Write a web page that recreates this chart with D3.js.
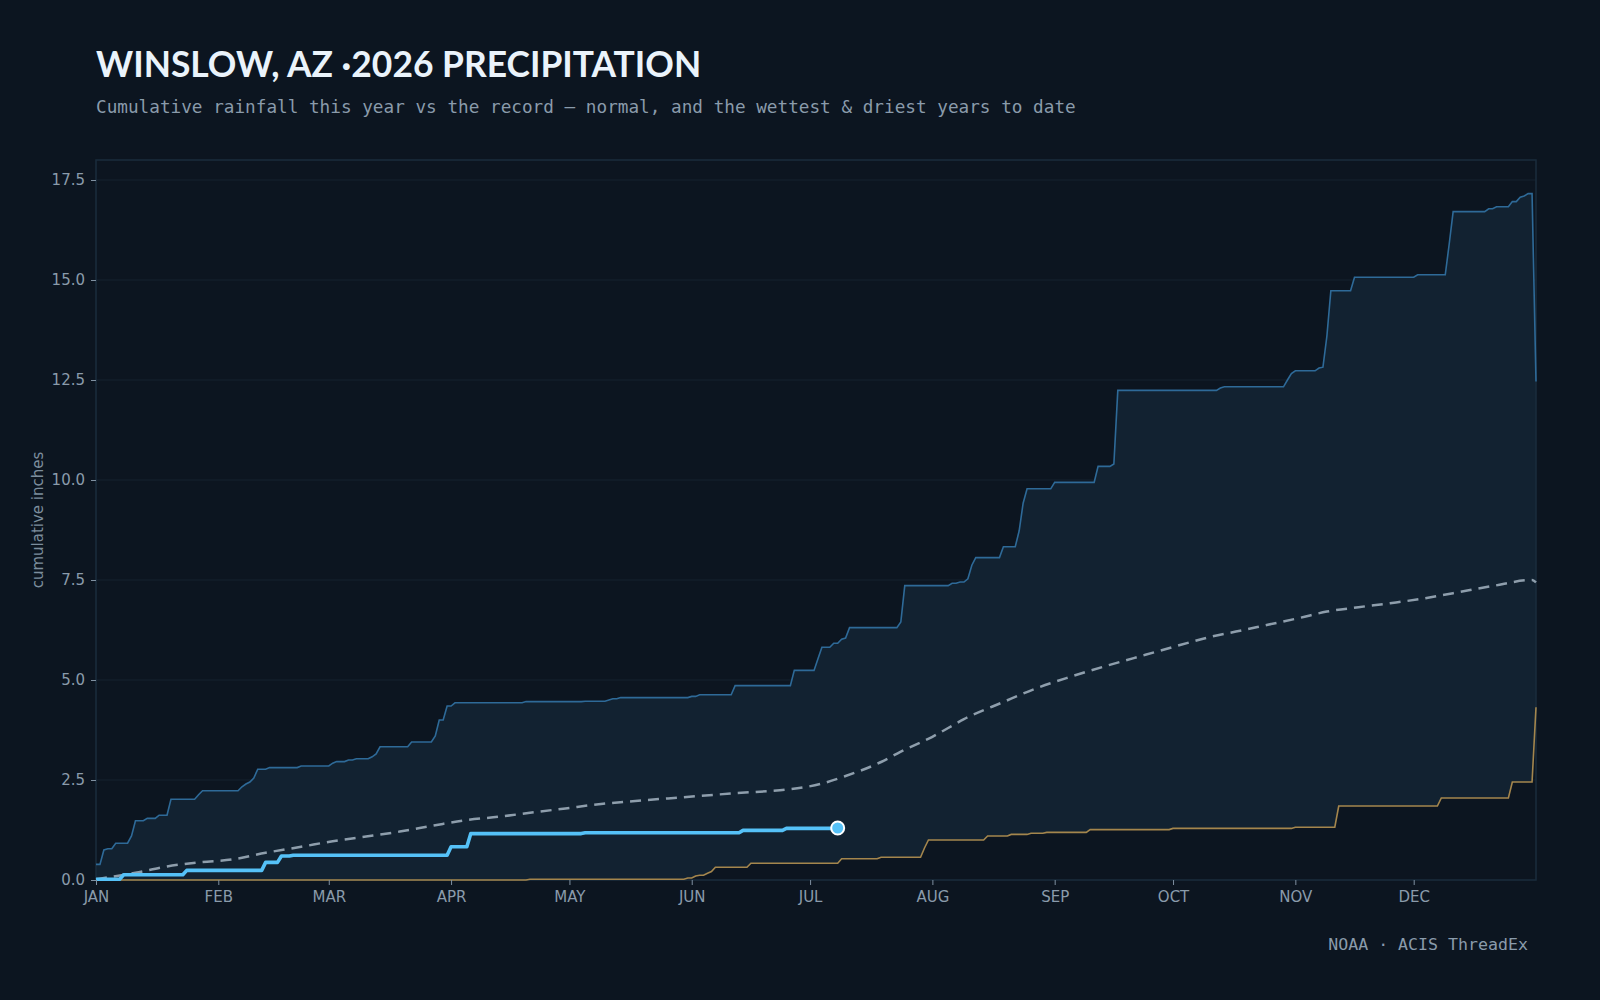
<!DOCTYPE html>
<html>
<head>
<meta charset="utf-8">
<script src="https://cdn.jsdelivr.net/npm/d3@7"></script>
<style>
	html, body { margin: 0; padding: 0; background: #0c1520; }
	#appRain { width: 1600px; height: 1000px; }
</style>
</head>
<body>
<div id="appRain"></div>
<script>
///////////////////////////////////////////////////////////////////////////
//////////////////////////// data /////////////////////////////////////////
///////////////////////////////////////////////////////////////////////////

// day of year (0 = Jan 1) where each month starts
const monthStarts = [0, 31, 59, 90, 120, 151, 181, 212, 243, 273, 304, 334];
const monthLabels = ["JAN", "FEB", "MAR", "APR", "MAY", "JUN", "JUL", "AUG", "SEP", "OCT", "NOV", "DEC"];
const yTicks = [0, 2.5, 5, 7.5, 10, 12.5, 15, 17.5];

// wettest year to date: [day, cumulative inches] where the total changes
const wettestSteps = [
	[0, 0.39], [2, 0.75], [3, 0.78], [5, 0.92], [9, 1.1], [10, 1.48], [13, 1.54],
	[16, 1.62], [19, 2.02], [26, 2.13], [27, 2.23], [37, 2.33], [38, 2.4], [39, 2.45],
	[40, 2.55], [41, 2.77], [44, 2.81], [52, 2.85], [60, 2.92], [61, 2.96], [64, 3.0],
	[66, 3.03], [70, 3.08], [71, 3.15], [72, 3.33], [80, 3.45], [86, 3.6], [87, 4.0],
	[89, 4.35], [91, 4.43], [109, 4.46], [124, 4.47], [130, 4.5], [131, 4.53], [133, 4.56],
	[151, 4.59], [153, 4.63], [162, 4.86], [177, 5.24], [183, 5.53], [184, 5.82],
	[187, 5.92], [189, 6.02], [190, 6.05], [191, 6.31], [204, 6.45], [205, 7.36],
	[217, 7.42], [219, 7.45], [221, 7.53], [222, 7.87], [223, 8.06], [230, 8.33],
	[234, 8.73], [235, 9.42], [236, 9.78], [243, 9.94], [254, 10.34], [258, 10.4],
	[259, 12.24], [285, 12.3], [286, 12.33], [302, 12.5], [303, 12.66], [304, 12.73],
	[310, 12.8], [311, 12.82], [312, 13.6], [313, 14.73], [319, 15.07], [335, 15.13],
	[343, 15.9], [344, 16.71], [353, 16.78], [355, 16.83], [359, 16.96], [361, 17.07],
	[362, 17.1], [363, 17.16], [365, 12.46]
];

// driest year to date
const driestSteps = [
	[0, 0], [110, 0.02], [150, 0.05], [152, 0.1], [153, 0.12], [155, 0.17], [156, 0.21],
	[157, 0.32], [166, 0.42], [189, 0.53], [199, 0.57], [210, 0.8], [211, 1.0],
	[226, 1.1], [232, 1.14], [237, 1.17], [241, 1.19], [252, 1.26], [273, 1.29],
	[304, 1.32], [315, 1.85], [341, 2.05], [359, 2.45], [365, 4.32]
];

// normal, cumulative
const normalDays = [0, 10, 18, 26, 35, 43, 52, 60, 68, 77, 86, 94, 102, 110, 119, 128, 136,
	145, 153, 162, 170, 176, 184, 190, 199, 204, 212, 216, 220, 230, 238, 247, 256, 266,
	275, 283, 290, 297, 305, 312, 320, 328, 336, 344, 354, 364, 365];
const normalValues = [0.02, 0.18, 0.34, 0.44, 0.52, 0.68, 0.83, 0.97, 1.08, 1.21, 1.37, 1.5,
	1.58, 1.68, 1.79, 1.9, 1.97, 2.04, 2.1, 2.17, 2.22, 2.27, 2.41, 2.6, 2.95, 3.21, 3.58,
	3.8, 4.02, 4.45, 4.78, 5.08, 5.35, 5.63, 5.88, 6.09, 6.23, 6.38, 6.55, 6.71, 6.82,
	6.92, 7.03, 7.17, 7.35, 7.5, 7.44];

// this year so far
const currentSteps = [
	[0, 0.02], [7, 0.13], [23, 0.24], [43, 0.44], [47, 0.6], [50, 0.62], [90, 0.83],
	[95, 1.16], [124, 1.18], [164, 1.24], [175, 1.29], [188, 1.3]
];
const lastDay = 188;

///////////////////////////////////////////////////////////////////////////
//////////////////////////// drawing function /////////////////////////////
///////////////////////////////////////////////////////////////////////////

const createChart = () => {
	// step lookup: total on a given day is the last recorded total
	const stepAt = (steps, day) => {
		let v = steps[0][1];
		steps.forEach((s) => {
			if (s[0] <= day) v = s[1];
		});
		return v;
	};

	const daily = (steps, endDay) =>
		d3.range(0, endDay + 1).map((day) => ({ day: day, value: stepAt(steps, day) }));

	const wettest = daily(wettestSteps, 365);
	const driest = daily(driestSteps, 365);
	const current = daily(currentSteps, lastDay);
	const normal = normalDays.map((d, i) => ({ day: d, value: normalValues[i] }));
	const band = wettest.map((d, i) => ({ day: d.day, hi: d.value, lo: driest[i].value }));

	//////////////////////////// sizes ////////////////////////////////////////

	let dimensions = {
		width: 1600,
		height: 1000,
		margin: {
			top: 160,
			right: 64,
			bottom: 120,
			left: 96
		}
	};
	dimensions.boundedWidth =
		dimensions.width - dimensions.margin.left - dimensions.margin.right;
	dimensions.boundedHeight =
		dimensions.height - dimensions.margin.top - dimensions.margin.bottom;

	//////////////////////////// svg //////////////////////////////////////////

	const wrapper = d3
		.select("#appRain")
		.append("svg")
		.attr("width", dimensions.width)
		.attr("height", dimensions.height)
		.style("background", "#0c1520");

	const bounds = wrapper
		.append("g")
		.attr("transform", `translate(${dimensions.margin.left},${dimensions.margin.top})`);

	//////////////////////////// scales ///////////////////////////////////////

	const xScale = d3.scaleLinear().domain([0, 365]).range([0, dimensions.boundedWidth]);
	const yScale = d3.scaleLinear().domain([0, 18]).range([dimensions.boundedHeight, 0]);

	//////////////////////////// grid /////////////////////////////////////////

	bounds
		.append("g")
		.selectAll("line")
		.data(yTicks.slice(1))
		.join("line")
		.attr("x1", 0)
		.attr("x2", dimensions.boundedWidth)
		.attr("y1", (d) => yScale(d))
		.attr("y2", (d) => yScale(d))
		.attr("stroke", "#14232f")
		.attr("stroke-width", 1.2);

	//////////////////////////// band /////////////////////////////////////////

	const areaGenerator = d3
		.area()
		.x((d) => xScale(d.day))
		.y0((d) => yScale(d.lo))
		.y1((d) => yScale(d.hi));

	bounds.append("path").datum(band).attr("d", areaGenerator).attr("fill", "#122231");

	//////////////////////////// frame ////////////////////////////////////////

	bounds
		.append("rect")
		.attr("width", dimensions.boundedWidth)
		.attr("height", dimensions.boundedHeight)
		.attr("fill", "none")
		.attr("stroke", "#1a2c3c")
		.attr("stroke-width", 1.5);

	//////////////////////////// lines ////////////////////////////////////////

	const lineGenerator = d3
		.line()
		.x((d) => xScale(d.day))
		.y((d) => yScale(d.value));

	bounds
		.append("path")
		.datum(wettest)
		.attr("d", lineGenerator)
		.attr("fill", "none")
		.attr("stroke", "#2e6a98")
		.attr("stroke-width", 1.6);

	bounds
		.append("path")
		.datum(driest)
		.attr("d", lineGenerator)
		.attr("fill", "none")
		.attr("stroke", "#a4864d")
		.attr("stroke-width", 1.6);

	bounds
		.append("path")
		.datum(normal)
		.attr("d", lineGenerator.curve(d3.curveMonotoneX))
		.attr("fill", "none")
		.attr("stroke", "#8e9eac")
		.attr("stroke-width", 2.5)
		.attr("stroke-dasharray", "11 7");

	lineGenerator.curve(d3.curveLinear);

	bounds
		.append("path")
		.datum(current)
		.attr("d", lineGenerator)
		.attr("fill", "none")
		.attr("stroke", "#55c1f7")
		.attr("stroke-width", 3.6)
		.attr("stroke-linejoin", "round");

	const last = current[current.length - 1];
	bounds
		.append("circle")
		.attr("cx", xScale(last.day))
		.attr("cy", yScale(last.value))
		.attr("r", 6.5)
		.attr("fill", "#55c1f7")
		.attr("stroke", "#ffffff")
		.attr("stroke-width", 2);

	//////////////////////////// axes /////////////////////////////////////////

	const xAxisGenerator = d3
		.axisBottom(xScale)
		.tickValues(monthStarts)
		.tickFormat((d, i) => monthLabels[i])
		.tickSize(5)
		.tickPadding(6);

	const xAxis = bounds
		.append("g")
		.attr("transform", `translate(0,${dimensions.boundedHeight})`)
		.call(xAxisGenerator);

	const yAxisGenerator = d3
		.axisLeft(yScale)
		.tickValues(yTicks)
		.tickFormat(d3.format(".1f"))
		.tickSize(5)
		.tickPadding(6);

	const yAxis = bounds.append("g").call(yAxisGenerator);

	[xAxis, yAxis].forEach((axis) => {
		axis.select(".domain").remove();
		axis.selectAll(".tick line").attr("stroke", "#7f90a0");
		axis
			.selectAll(".tick text")
			.attr("fill", "#8a9bab")
			.style("font-family", "DejaVu Sans")
			.style("font-size", "15px");
	});

	wrapper
		.append("text")
		.attr("transform", `translate(43,${dimensions.margin.top + dimensions.boundedHeight / 2}) rotate(-90)`)
		.attr("text-anchor", "middle")
		.attr("fill", "#7c8d9d")
		.style("font-family", "DejaVu Sans")
		.style("font-size", "15px")
		.text("cumulative inches");

	//////////////////////////// titles ///////////////////////////////////////

	wrapper
		.append("text")
		.attr("x", 96)
		.attr("y", 77)
		.attr("fill", "#eaf3fb")
		.style("font-family", "Lato")
		.style("font-weight", 700)
		.style("font-size", "35.4px")
		.text("WINSLOW, AZ ·2026 PRECIPITATION");

	wrapper
		.append("text")
		.attr("x", 96)
		.attr("y", 113)
		.attr("fill", "#8a9bab")
		.style("font-family", "DejaVu Sans Mono")
		.style("font-size", "17.7px")
		.text("Cumulative rainfall this year vs the record — normal, and the wettest & driest years to date");

	wrapper
		.append("text")
		.attr("x", 1528)
		.attr("y", 950)
		.attr("text-anchor", "end")
		.attr("fill", "#8a9bab")
		.style("font-family", "DejaVu Sans Mono")
		.style("font-size", "16.6px")
		.text("NOAA · ACIS ThreadEx");
};

createChart();
</script>
</body>
</html>
